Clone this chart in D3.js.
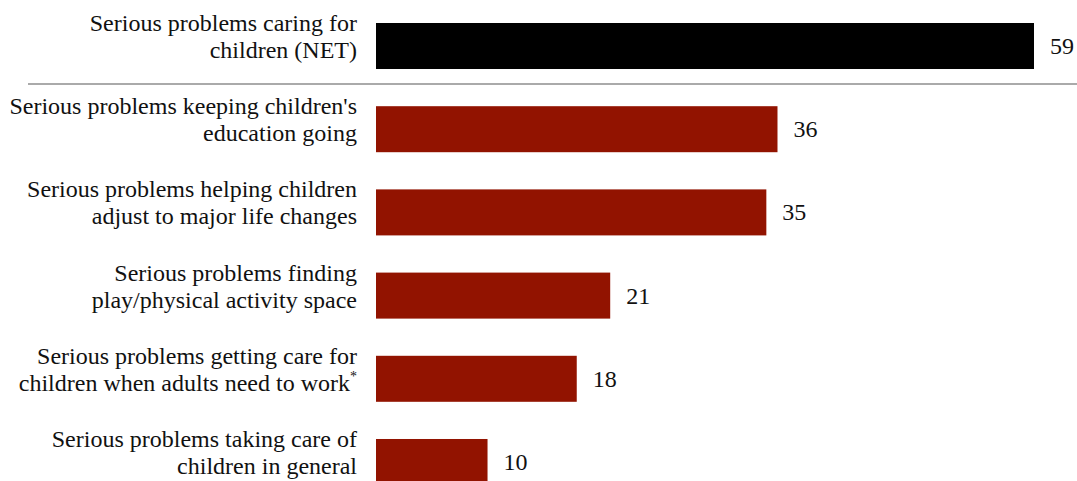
<!DOCTYPE html>
<html><head><meta charset="utf-8">
<script src="https://cdn.jsdelivr.net/npm/d3@7"></script>
<style>body{margin:0;background:#fff;}svg{display:block;} text{font-family:'Liberation Serif','Times New Roman',serif;}</style>
</head><body>
<svg id="c" width="1077" height="481"></svg>
<script>
const categories = [
  ["Serious problems caring for", "children (NET)"],
  ["Serious problems keeping children's", "education going"],
  ["Serious problems helping children", "adjust to major life changes"],
  ["Serious problems finding", "play/physical activity space"],
  ["Serious problems getting care for", "children when adults need to work*"],
  ["Serious problems taking care of", "children in general"]
];
const values = [59, 36, 35, 21, 18, 10];
const colors = ["#000000", "#921300", "#921300", "#921300", "#921300", "#921300"];

const svg = d3.select("#c");
const x = d3.scaleLinear().domain([0, 59]).range([376, 1034]);
const y = d3.scaleBand().domain(d3.range(values.length)).range([2.2, 505.8]).paddingInner(0.447).paddingOuter(0.25);

const rows = svg.selectAll("g.row").data(values).enter().append("g").attr("class","row");
rows.append("rect")
  .attr("x", x(0))
  .attr("y", (d,i) => y(i))
  .attr("width", d => x(d) - x(0))
  .attr("height", y.bandwidth())
  .attr("fill", (d,i) => colors[i]);
rows.append("text")
  .attr("x", d => x(d) + 16)
  .attr("y", (d,i) => y(i) + y.bandwidth()/2 + 8)
  .attr("font-size", 24)
  .attr("fill", "#111")
  .text(d => d);

const labels = svg.selectAll("text.lab").data(categories).enter().append("text")
  .attr("class","lab")
  .attr("text-anchor","end")
  .attr("font-size", 24)
  .attr("fill", "#111");
labels.each(function(lines, i){
  const t = d3.select(this);
  const cy = y(i) + y.bandwidth()/2;
  lines.forEach((ln, j) => {
    const ts = t.append("tspan").attr("x", 357).attr("y", cy + (j === 0 ? -15 : 12));
    if (ln.endsWith("*")) {
      ts.text(ln.slice(0, -1));
      t.append("tspan").attr("font-size", 14).attr("dy", -10).text("*");
    } else {
      ts.text(ln);
    }
  });
});

const gap = y(1) - y(0) - y.bandwidth();
const sepY = y(0) + y.bandwidth() + gap * 0.4;
svg.append("line")
  .attr("x1", 28).attr("x2", 1077)
  .attr("y1", sepY).attr("y2", sepY)
  .attr("stroke", "#aaaaaa").attr("stroke-width", 2);
</script>
</body></html>
